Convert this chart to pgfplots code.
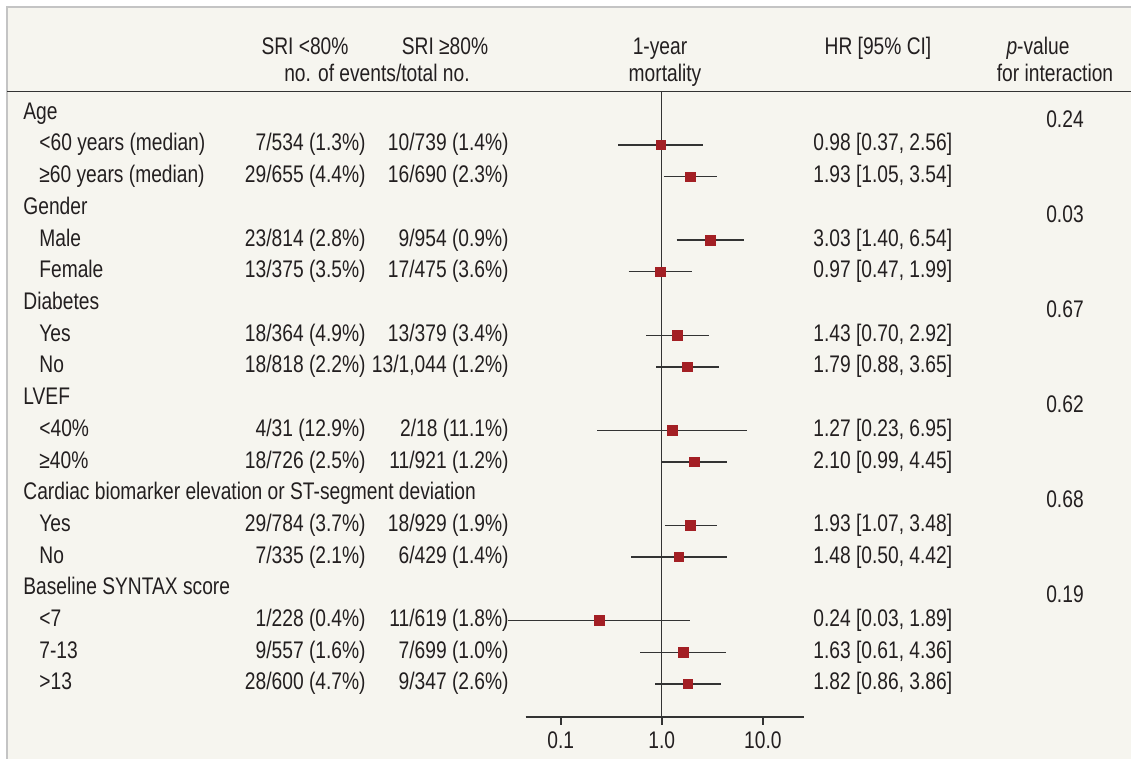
\documentclass[border=0pt]{standalone}
\usepackage{fontspec}
\setmainfont{Liberation Sans}[FakeStretch=0.8]
\usepackage{pgfplots}
\pgfplotsset{compat=1.18}
\definecolor{bgc}{HTML}{F6F5EF}
\definecolor{borderc}{HTML}{C4C4C4}
\definecolor{linec}{HTML}{333333}
\definecolor{textc}{HTML}{231F20}
\definecolor{markc}{HTML}{A31F24}
\newcommand\fs{\fontsize{12}{14}\selectfont}
\tikzset{T/.style={font=\fs, text=textc, inner sep=0pt}}
\newcommand\grp[2]{\node[T, anchor=base west] at (23,{87.6+31.7*#1}) {#2};}
\newcommand\sub[5]{%
 \node[T, anchor=base west] at (39,{87.6+31.7*#1}) {#2};
 \node[T, anchor=base east] at (366,{87.6+31.7*#1}) {#3};
 \node[T, anchor=base east] at (509,{87.6+31.7*#1}) {#4};
 \node[T, anchor=base west] at (813,{87.6+31.7*#1}) {#5};}
\newcommand\pv[2]{\node[T, anchor=base] at (1065,{95.6+31.7*#1}) {#2};}
\begin{document}
\begin{tikzpicture}
\begin{scope}[x=0.5pt,y=-0.5pt]
\fill[white] (0,0) rectangle (1131,759);
\useasboundingbox (0,0) rectangle (1131,759);
\fill[bgc] (7,7) rectangle (1131,759);
\draw[borderc, line width=0.75pt] (7,759) -- (7,7) -- (1131,7);
\draw[linec, line width=0.75pt] (7,91.5) -- (1131,91.5);
% headers
\node[T, anchor=base] at (305,55) {SRI <80\%};
\node[T, anchor=base] at (445,55) {SRI ≥80\%};
\node[T, anchor=base] at (377,82) {no. of events/total no.};
\node[T, anchor=base] at (660,55) {1-year};
\node[T, anchor=base] at (665,82) {mortality};
\node[T, anchor=base] at (878,55) {HR [95\% CI]};
\node[T, anchor=base] at (1038,55) {\textit{p}-value};
\node[T, anchor=base] at (1055,82) {for interaction};
% rows
\grp{1}{Age}
\sub{2}{<60 years (median)}{7/534 (1.3\%)}{10/739 (1.4\%)}{0.98 [0.37, 2.56]}
\sub{3}{≥60 years (median)}{29/655 (4.4\%)}{16/690 (2.3\%)}{1.93 [1.05, 3.54]}
\grp{4}{Gender}
\sub{5}{Male}{23/814 (2.8\%)}{9/954 (0.9\%)}{3.03 [1.40, 6.54]}
\sub{6}{Female}{13/375 (3.5\%)}{17/475 (3.6\%)}{0.97 [0.47, 1.99]}
\grp{7}{Diabetes}
\sub{8}{Yes}{18/364 (4.9\%)}{13/379 (3.4\%)}{1.43 [0.70, 2.92]}
\sub{9}{No}{18/818 (2.2\%)}{13/1,044 (1.2\%)}{1.79 [0.88, 3.65]}
\grp{10}{LVEF}
\sub{11}{<40\%}{4/31 (12.9\%)}{2/18 (11.1\%)}{1.27 [0.23, 6.95]}
\sub{12}{≥40\%}{18/726 (2.5\%)}{11/921 (1.2\%)}{2.10 [0.99, 4.45]}
\grp{13}{Cardiac biomarker elevation or ST-segment deviation}
\sub{14}{Yes}{29/784 (3.7\%)}{18/929 (1.9\%)}{1.93 [1.07, 3.48]}
\sub{15}{No}{7/335 (2.1\%)}{6/429 (1.4\%)}{1.48 [0.50, 4.42]}
\grp{16}{Baseline SYNTAX score}
\sub{17}{<7}{1/228 (0.4\%)}{11/619 (1.8\%)}{0.24 [0.03, 1.89]}
\sub{18}{7-13}{9/557 (1.6\%)}{7/699 (1.0\%)}{1.63 [0.61, 4.36]}
\sub{19}{>13}{28/600 (4.7\%)}{9/347 (2.6\%)}{1.82 [0.86, 3.86]}
\pv{1}{0.24}
\pv{4}{0.03}
\pv{7}{0.67}
\pv{10}{0.62}
\pv{13}{0.68}
\pv{16}{0.19}
\end{scope}
\begin{axis}[
  at={(262.85pt,-358.35pt)}, anchor=south west,
  scale only axis, width=139.3pt, height=312.6pt,
  xmode=log, log basis x=10, xmin=0.045, xmax=25.7,
  ymin=-20.035, ymax=-0.312,
  axis x line*=bottom, axis y line=none,
  xtick={0.1,1,10}, xticklabels={0.1,1.0,10.0},
  xminorticks=false,
  tick align=outside, major tick length=4pt,
  x axis line style={line width=1pt, color=linec, -},
  xtick style={line width=0.8pt, color=linec},
  xticklabel style={font=\fs, text=textc},
  clip=false,
]
\addplot[linec, line width=0.65pt] coordinates {(1,-0.312) (1,-20.035)};
\addplot[linec, line width=0.65pt] coordinates {(0.37,-2) (2.56,-2)};
\addplot[linec, line width=0.65pt] coordinates {(1.05,-3) (3.54,-3)};
\addplot[linec, line width=0.65pt] coordinates {(1.40,-5) (6.54,-5)};
\addplot[linec, line width=0.65pt] coordinates {(0.47,-6) (1.99,-6)};
\addplot[linec, line width=0.65pt] coordinates {(0.70,-8) (2.92,-8)};
\addplot[linec, line width=0.65pt] coordinates {(0.88,-9) (3.65,-9)};
\addplot[linec, line width=0.65pt] coordinates {(0.23,-11) (6.95,-11)};
\addplot[linec, line width=0.65pt] coordinates {(0.99,-12) (4.45,-12)};
\addplot[linec, line width=0.65pt] coordinates {(1.07,-14) (3.48,-14)};
\addplot[linec, line width=0.65pt] coordinates {(0.50,-15) (4.42,-15)};
\addplot[linec, line width=0.65pt] coordinates {(0.03,-17) (1.89,-17)};
\addplot[linec, line width=0.65pt] coordinates {(0.61,-18) (4.36,-18)};
\addplot[linec, line width=0.65pt] coordinates {(0.86,-19) (3.86,-19)};
\addplot[only marks, mark=square*, mark size=2.4pt, color=markc, mark options={draw=none, fill=markc}] coordinates {
(0.98,-2) (1.93,-3) (3.03,-5) (0.97,-6) (1.43,-8) (1.79,-9) (1.27,-11) (2.10,-12)
(1.93,-14) (1.48,-15) (0.24,-17) (1.63,-18) (1.82,-19)};
\end{axis}
\end{tikzpicture}
\end{document}
